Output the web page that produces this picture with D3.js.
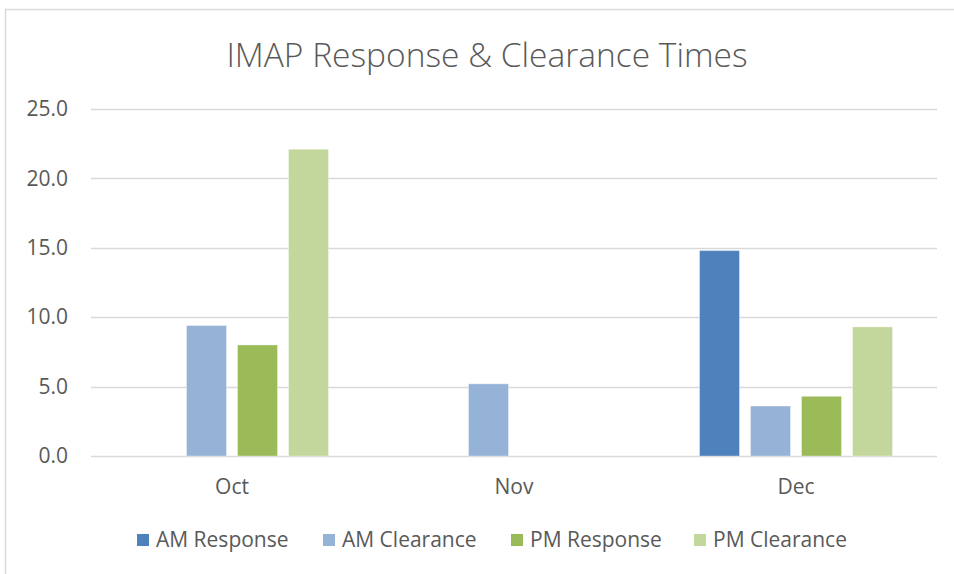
<!DOCTYPE html>
<html>
<head>
<meta charset="utf-8">
<script src="https://cdn.jsdelivr.net/npm/d3@7/dist/d3.min.js"></script>
<style>
  body { margin: 0; background: #fff; }
  text { font-family: "Open Sans", "Noto Sans", sans-serif; fill: #595959; }
</style>
</head>
<body>
<div id="chart"></div>
<script>
// chart data
var months = ["Oct", "Nov", "Dec"];
var seriesNames = ["AM Response", "AM Clearance", "PM Response", "PM Clearance"];
var seriesColors = ["#4F81BD", "#95B3D7", "#9BBB59", "#C3D69B"];
var amResponse = [0, 0, 14.8];
var amClearance = [9.4, 5.2, 3.6];
var pmResponse = [8.0, 0, 4.3];
var pmClearance = [22.1, 0, 9.3];
var yTicks = [0, 5, 10, 15, 20, 25];

var seriesValues = [amResponse, amClearance, pmResponse, pmClearance];

var W = 954, H = 574;
var margin = {top: 109, right: 17, bottom: 118, left: 91},
	width = W - margin.left - margin.right,
	height = H - margin.top - margin.bottom;

var svg = d3.select("#chart").append("svg")
	.attr("width", W)
	.attr("height", H);

// chart frame (runs off the right/bottom edge like the original)
svg.append("rect")
	.attr("x", 5.5).attr("y", 9.5)
	.attr("width", 1000).attr("height", 700)
	.attr("fill", "none")
	.attr("stroke", "#d9d9d9")
	.attr("stroke-width", 1.5);

// title
svg.append("text")
	.attr("x", 487)
	.attr("y", 67)
	.attr("text-anchor", "middle")
	.style("font-size", "33.5px")
	.style("font-weight", 300)
	.text("IMAP Response & Clearance Times");

var g = svg.append("g")
	.attr("transform", "translate(" + margin.left + "," + margin.top + ")");

var x0 = d3.scaleBand().domain(months).range([0, width]).padding(0);
var x1 = d3.scaleBand().domain(seriesNames)
	.range([0, x0.bandwidth()])
	.paddingInner(0.216)
	.paddingOuter(0.873);
var y = d3.scaleLinear().domain([0, 25]).range([height, 0]);

// gridlines
g.append("g")
	.attr("class", "grid")
	.selectAll("line")
	.data(yTicks)
	.enter().append("line")
	.attr("x1", 0).attr("x2", width)
	.attr("y1", function(d) { return Math.round(y(d)) + 0.5; })
	.attr("y2", function(d) { return Math.round(y(d)) + 0.5; })
	.attr("stroke", "#d9d9d9")
	.attr("stroke-width", 1.5);

// y axis labels
var yAxis = d3.axisLeft(y).tickValues(yTicks).tickFormat(d3.format(".1f")).tickSize(0).tickPadding(23);
var ya = g.append("g").attr("class", "y axis").call(yAxis);
ya.select(".domain").remove();
ya.selectAll("text").style("font-size", "21px").attr("fill", "#595959");

// x axis labels
var xAxis = d3.axisBottom(x0).tickSize(0).tickPadding(23);
var xa = g.append("g").attr("class", "x axis")
	.attr("transform", "translate(0," + height + ")")
	.call(xAxis);
xa.select(".domain").remove();
xa.selectAll("text").style("font-size", "21px").attr("fill", "#595959");

// bars
var rows = months.map(function(m, i) {
	return {
		month: m,
		values: seriesNames.map(function(s, j) {
			return {series: s, value: seriesValues[j][i], color: seriesColors[j]};
		})
	};
});

var groups = g.selectAll(".month")
	.data(rows)
	.enter().append("g")
	.attr("class", "month")
	.attr("transform", function(d) { return "translate(" + x0(d.month) + ",0)"; });

groups.selectAll("rect")
	.data(function(d) { return d.values.filter(function(v) { return v.value > 0; }); })
	.enter().append("rect")
	.attr("x", function(d) { return x1(d.series); })
	.attr("width", x1.bandwidth())
	.attr("y", function(d) { return y(d.value); })
	.attr("height", function(d) { return y(0) - y(d.value); })
	.attr("fill", function(d) { return d.color; })
	.attr("stroke", "rgba(255,255,255,0.35)")
	.attr("stroke-width", 1);

// legend
var legendX = [137, 323, 511, 694];
var legend = svg.append("g").attr("class", "legend")
	.selectAll("g")
	.data(seriesNames)
	.enter().append("g")
	.attr("transform", function(d, i) { return "translate(" + legendX[i] + ",534)"; });

legend.append("rect")
	.attr("width", 12).attr("height", 12)
	.attr("fill", function(d, i) { return seriesColors[i]; });

legend.append("text")
	.attr("x", 19)
	.attr("y", 6)
	.attr("dy", "0.35em")
	.style("font-size", "21px")
	.text(function(d) { return d; });
</script>
</body>
</html>
